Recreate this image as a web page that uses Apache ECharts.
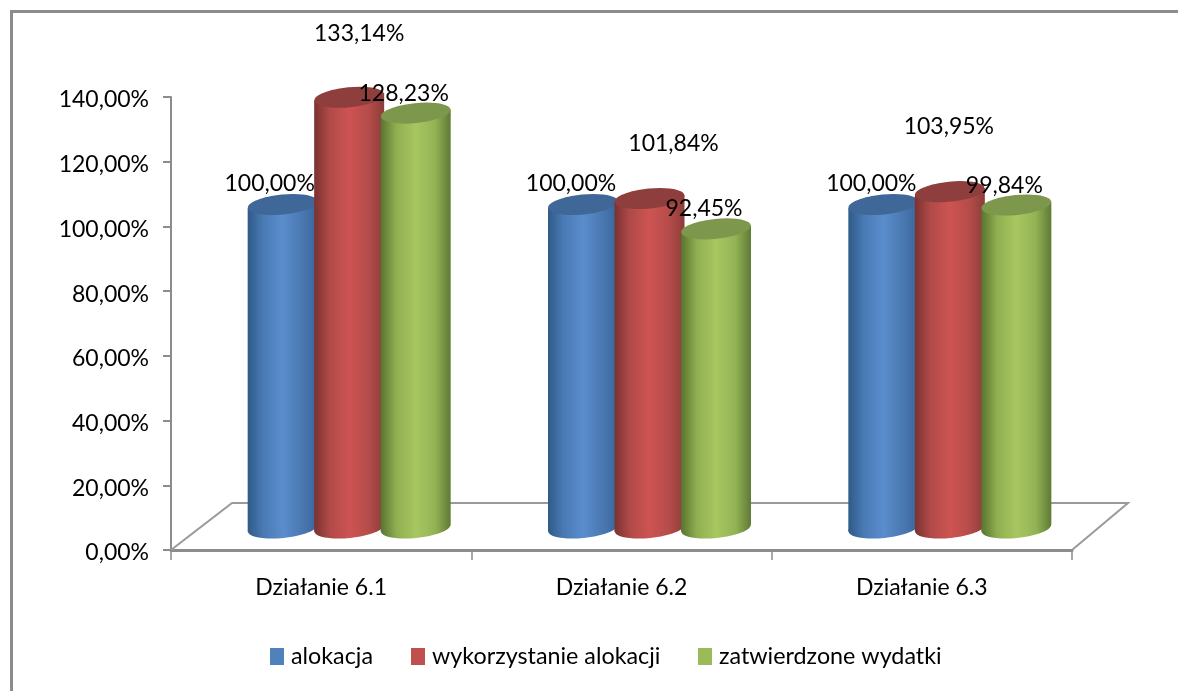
<!DOCTYPE html>
<html>
<head>
<meta charset="utf-8">
<title>Działania 6.1 - 6.3</title>
<script src="https://cdn.jsdelivr.net/npm/echarts@6/dist/echarts.min.js"></script>
<style>
  html, body { margin: 0; padding: 0; background: #fff; }
  #chart { width: 1178px; height: 691px; }
</style>
</head>
<body>
<div id="chart"></div>
<script>
const categories = ['Działanie 6.1', 'Działanie 6.2', 'Działanie 6.3'];
const alokacja = [100.00, 100.00, 100.00];
const wykorzystanie = [133.14, 101.84, 103.95];
const zatwierdzone = [128.23, 92.45, 99.84];

// label placement relative to top of cylinder, they are hand placed in the original
const labelDx = [[-13, -12, -12], [10, 24, -1], [-12, -12, -12]];
const labelDy = [[-21, -21, -21], [-64, -55, -65], [-20, -20, -19]];

const FONT = 'Lato';
const GREY = '#8c8c8c';
const BAR_W = 70;
const BAR_STEP = 66.5;
const DEPTH_X = 28;
const DEPTH_Y = 22;
const TILT = 0.1;

const bodyColors = [
  ['#2f5a88', '#4a7ab4', '#5a8dcd', '#4a78b0', '#38659c'],
  ['#7a3230', '#b04a48', '#cd5452', '#b54c4a', '#8c3c3a'],
  ['#587430', '#8fae50', '#a8c761', '#93b254', '#5e7a36']
];
const topColors = ['#3f6797', '#8e3e3c', '#7d974c'];

const pct = (v) => v.toFixed(2).replace('.', ',') + '%';

const cylinder = (idx) => (params, api) => {
  const i = api.value(0);
  const v = api.value(1);
  const top = api.coord([i, v]);
  const base = api.coord([i, 0]);
  const cx = top[0] + DEPTH_X + (idx - 1) * BAR_STEP;
  const yTop = top[1] - DEPTH_Y;
  const yBase = base[1] - DEPTH_Y;
  const r = BAR_W / 2;
  const s = r * Math.sin(TILT);
  const c = bodyColors[idx];
  const fill = new echarts.graphic.LinearGradient(0, 0, 1, 0, [
    { offset: 0, color: c[0] },
    { offset: 0.22, color: c[1] },
    { offset: 0.5, color: c[2] },
    { offset: 0.78, color: c[3] },
    { offset: 1, color: c[4] }
  ]);
  return {
    type: 'group',
    children: [
      {
        type: 'ellipse',
        shape: { cx: 0, cy: 0, rx: r, ry: 10 },
        x: cx, y: yBase, rotation: TILT,
        style: { fill: fill }
      },
      {
        type: 'polygon',
        shape: { points: [[cx - r, yTop + s], [cx + r, yTop - s], [cx + r, yBase - s], [cx - r, yBase + s]] },
        style: { fill: fill }
      },
      {
        type: 'ellipse',
        shape: { cx: 0, cy: 0, rx: r, ry: 10 },
        x: cx, y: yTop, rotation: TILT,
        style: { fill: topColors[idx] }
      },
      {
        type: 'text',
        x: cx + labelDx[idx][i],
        y: yTop + labelDy[idx][i],
        z2: 10,
        style: {
          text: pct(v),
          font: '23px ' + FONT,
          fill: '#000',
          align: 'center',
          verticalAlign: 'middle'
        }
      }
    ]
  };
};

const floor = (params, api) => {
  const half = api.size([1, 0])[0] / 2;
  const a = api.coord([0, 0]);
  const b = api.coord([categories.length - 1, 0]);
  const x0 = a[0] - half;
  const x1 = b[0] + half;
  return {
    type: 'polyline',
    shape: { points: [[x0, a[1]], [x0 + 61, a[1] - 47], [x1 + 56, b[1] - 47], [x1, b[1]]] },
    style: { fill: 'none', stroke: '#9a9a9a', lineWidth: 2 }
  };
};

const makeSeries = (name, values, idx, color) => ({
  name: name,
  type: 'custom',
  clip: false,
  z: 3 + idx,
  itemStyle: { color: color },
  encode: { x: 0, y: 1 },
  data: values.map((v, i) => [i, v]),
  renderItem: cylinder(idx)
});

const legendOf = (name, left) => ({
  data: [name],
  left: left,
  top: 645,
  padding: 0,
  icon: 'rect',
  itemWidth: 14,
  itemHeight: 17,
  selectedMode: false,
  textStyle: { fontFamily: FONT, fontSize: 23.3, color: '#000', padding: [0, 0, 0, 2] }
});

const chart = echarts.init(document.getElementById('chart'));
chart.setOption({
  animation: false,
  backgroundColor: '#fff',
  graphic: [{
    type: 'polyline',
    shape: { points: [[11.5, 691], [11.5, 11.5], [1178, 11.5]] },
    style: { fill: 'none', stroke: GREY, lineWidth: 3 }
  }],
  legend: [
    legendOf('alokacja', 270),
    legendOf('wykorzystanie alokacji', 411),
    legendOf('zatwierdzone wydatki', 698)
  ],
  grid: { left: 171, right: 106, top: 97, bottom: 141 },
  xAxis: {
    type: 'category',
    data: categories,
    axisLine: { lineStyle: { color: GREY, width: 3 } },
    axisTick: { show: true, length: 10, lineStyle: { color: GREY, width: 1.5 } },
    axisLabel: { fontFamily: FONT, fontSize: 23, color: '#000', margin: 26 }
  },
  yAxis: {
    type: 'value',
    min: 0,
    max: 140,
    interval: 20,
    splitLine: { show: false },
    axisLine: { show: true, lineStyle: { color: GREY, width: 2 } },
    axisTick: { show: true, length: 8, lineStyle: { color: GREY, width: 2 } },
    axisLabel: {
      fontFamily: FONT, fontSize: 23, color: '#000', margin: 22,
      verticalAlign: 'top',
      lineHeight: 6,
      formatter: (v) => pct(v)
    }
  },
  series: [
    {
      type: 'custom',
      silent: true,
      clip: false,
      z: 2,
      encode: { x: 0, y: 1 },
      data: [[0, 0]],
      renderItem: floor
    },
    makeSeries('alokacja', alokacja, 0, '#4f81bd'),
    makeSeries('wykorzystanie alokacji', wykorzystanie, 1, '#c0504d'),
    makeSeries('zatwierdzone wydatki', zatwierdzone, 2, '#9bbb59')
  ]
});
</script>
</body>
</html>
